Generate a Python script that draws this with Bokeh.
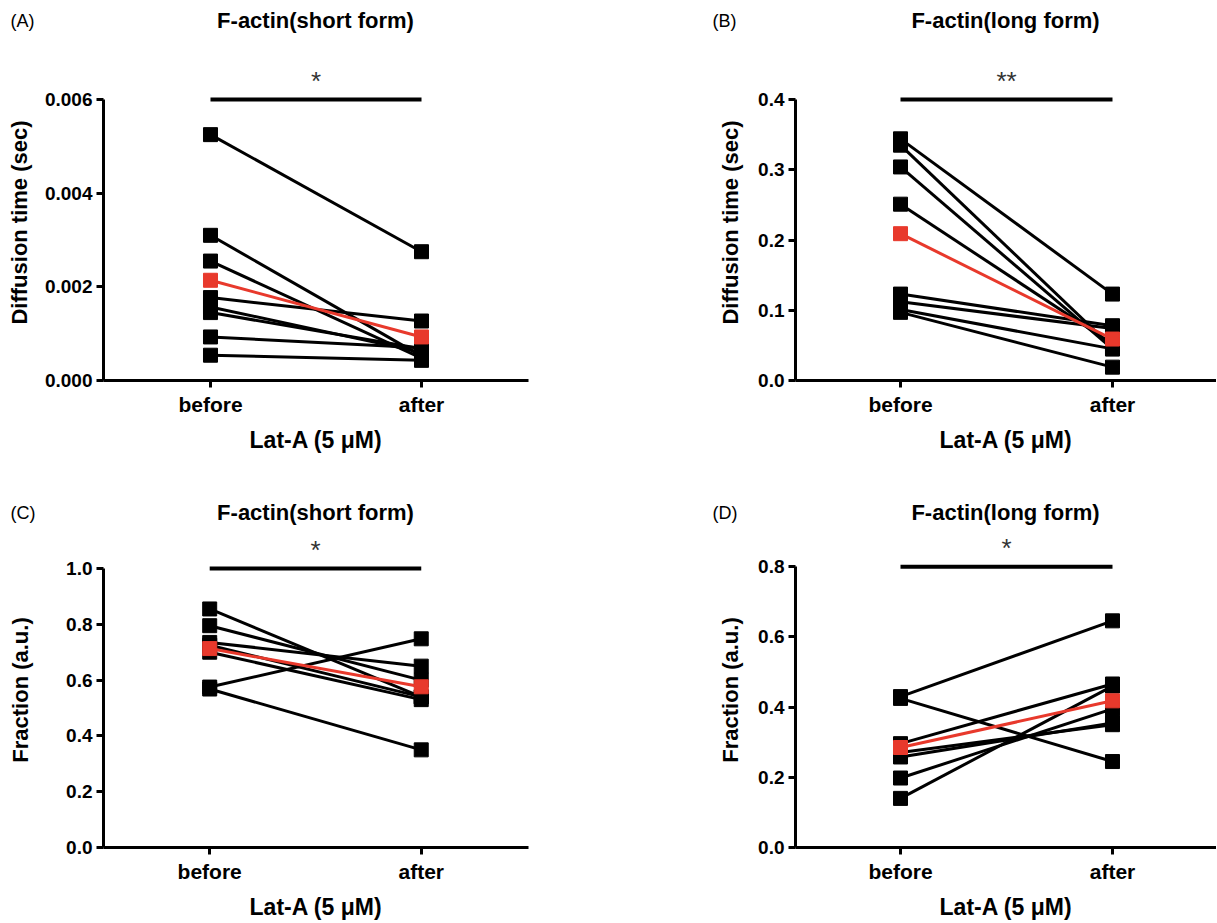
from bokeh.plotting import figure
from bokeh.layouts import column, row
from bokeh.models import Label, FixedTicker, PrintfTickFormatter, Range1d
from bokeh.embed import file_html
from bokeh.resources import INLINE

# ---------------- data ----------------
conditions = ["before", "after"]
x_label = "Lat-A (5 \u03bcM)"
panel_letters = ["(A)", "(B)", "(C)", "(D)"]
panel_titles = ["F-actin(short form)", "F-actin(long form)",
                "F-actin(short form)", "F-actin(long form)"]
y_labels = ["Diffusion time (sec)", "Diffusion time (sec)", "Fraction (a.u.)", "Fraction (a.u.)"]
significance = ["*", "**", "*", "*"]

# Panel A: F-actin(short form), diffusion time (sec)
A_before = [0.00525, 0.00310, 0.00255, 0.00177, 0.00157, 0.00145, 0.00093, 0.00054]
A_after = [0.00275, 0.00052, 0.00048, 0.00127, 0.00060, 0.00068, 0.00070, 0.00043]
A_mean = [0.00214, 0.00093]
A_ticks = [0.0, 0.002, 0.004, 0.006]

# Panel B: F-actin(long form), diffusion time (sec)
B_before = [0.344, 0.335, 0.304, 0.251, 0.123, 0.112, 0.101, 0.097]
B_after = [0.123, 0.047, 0.045, 0.052, 0.078, 0.074, 0.045, 0.019]
B_mean = [0.209, 0.059]
B_ticks = [0.0, 0.1, 0.2, 0.3, 0.4]

# Panel C: F-actin(short form), fraction
C_before = [0.855, 0.795, 0.735, 0.725, 0.700, 0.575, 0.568]
C_after = [0.540, 0.600, 0.650, 0.540, 0.530, 0.748, 0.350]
C_mean = [0.713, 0.576]
C_ticks = [0.0, 0.2, 0.4, 0.6, 0.8, 1.0]

# Panel D: F-actin(long form), fraction
D_before = [0.430, 0.425, 0.296, 0.271, 0.258, 0.198, 0.140]
D_after = [0.646, 0.245, 0.466, 0.350, 0.355, 0.395, 0.460]
D_mean = [0.285, 0.418]
D_ticks = [0.0, 0.2, 0.4, 0.6, 0.8]

FONT = "Liberation Sans"
RED = "#E8392C"
PAGE_W = 1216


def make_header(height, items):
    """Row of panel letters and titles; items: (letter, letter_x, title, title_x, y)."""
    h = figure(width=PAGE_W, height=height, output_backend="svg", toolbar_location=None,
               x_range=Range1d(0, PAGE_W), y_range=Range1d(height, 0),
               x_axis_location=None, y_axis_location=None,
               min_border=0, min_border_left=0, min_border_right=0,
               min_border_top=0, min_border_bottom=0)
    h.outline_line_color = None
    h.xgrid.visible = False
    h.ygrid.visible = False
    for letter, lx, title, tx, ty in items:
        h.add_layout(Label(x=lx, y=ty, text=letter, text_align="left",
                           text_baseline="middle", text_font=FONT,
                           text_font_size="18px", text_color="black"))
        h.add_layout(Label(x=tx, y=ty, text=title, text_align="center",
                           text_baseline="middle", text_font=FONT, text_font_style="bold",
                           text_font_size="22px", text_color="black"))
    return h


def make_panel(ylabel, before, after, mean, ticks, fmt, stars,
               origin, size, frame, xr, yr, label_standoff):
    ox, oy = origin
    w, h = size
    fl, fr, ft, fb = frame  # page pixel coords of frame edges
    p = figure(width=w, height=h, output_backend="svg", toolbar_location=None,
               x_range=Range1d(*xr), y_range=Range1d(*yr),
               min_border_left=fl - ox, min_border_right=ox + w - fr,
               min_border_top=ft - oy, min_border_bottom=oy + h - fb)
    p.outline_line_color = None
    p.xgrid.visible = False
    p.ygrid.visible = False

    def dy(py):
        return yr[0] + (fb - py) / (fb - ft) * (yr[1] - yr[0])

    for ax in (p.xaxis[0], p.yaxis[0]):
        ax.axis_line_width = 3
        ax.axis_line_color = "black"
        ax.major_tick_line_width = 3
        ax.major_tick_line_color = "black"
        ax.major_tick_out = 7
        ax.major_tick_in = 0
        ax.minor_tick_line_color = None
        ax.major_label_text_font = FONT
        ax.major_label_text_font_style = "bold"
        ax.major_label_text_color = "black"
        ax.axis_label_text_font = FONT
        ax.axis_label_text_font_style = "bold"
        ax.axis_label_text_color = "black"
    p.yaxis.axis_label_text_font_size = "22px"
    p.xaxis.axis_label_text_font_size = "23px"
    p.yaxis.major_label_text_font_size = "19px"
    p.xaxis.major_label_text_font_size = "21px"
    p.yaxis.ticker = FixedTicker(ticks=ticks)
    p.yaxis.formatter = PrintfTickFormatter(format=fmt)
    p.yaxis.bounds = (ticks[0], ticks[-1])
    p.yaxis.axis_label = ylabel
    p.yaxis.axis_label_standoff = label_standoff
    p.yaxis.major_label_standoff = 4
    p.xaxis.ticker = FixedTicker(ticks=[0, 1])
    p.xaxis.major_label_overrides = {0: conditions[0], 1: conditions[1]}
    p.xaxis.axis_label = x_label
    p.xaxis.major_label_standoff = 5
    p.xaxis.axis_label_standoff = 8

    # paired lines
    for b, a in zip(before, after):
        p.line([0, 1], [b, a], line_color="black", line_width=3)
    p.scatter([0] * len(before) + [1] * len(after), list(before) + list(after),
              marker="square", size=14, fill_color="black", line_color="black")
    p.line([0, 1], mean, line_color=RED, line_width=3)
    p.scatter([0, 1], mean, marker="square", size=14, fill_color=RED, line_color=RED)

    # significance bar
    p.line([0, 1], [ticks[-1], ticks[-1]], line_color="black", line_width=4)
    bar_py = fb - (ticks[-1] - yr[0]) / (yr[1] - yr[0]) * (fb - ft)
    p.add_layout(Label(x=0.5, y=dy(bar_py - 19), text=stars, text_align="center",
                       text_baseline="middle", text_font=FONT, text_font_size="26px",
                       text_color="#333333"))
    return p


header1 = make_header(40, [(panel_letters[0], 10, panel_titles[0], 315, 20),
                           (panel_letters[1], 712, panel_titles[1], 1005, 20)])
pA = make_panel(y_labels[0], A_before, A_after, A_mean, A_ticks, "%.3f", significance[0],
                (0, 40), (700, 436), (103, 528, 64, 380),
                (-0.507, 1.507), (0.0, 0.006 * 316 / 281), 10)
pB = make_panel(y_labels[1], B_before, B_after, B_mean, B_ticks, "%.1f", significance[1],
                (700, 40), (516, 436), (795, 1216, 64, 380),
                (-0.4953, 1.4906), (0.0, 0.4 * 316 / 281), 12)
header2 = make_header(50, [(panel_letters[2], 10, panel_titles[2], 315, 36),
                           (panel_letters[3], 712, panel_titles[3], 1005, 36)])
pC = make_panel(y_labels[2], C_before, C_after, C_mean, C_ticks, "%.1f", significance[2],
                (0, 526), (700, 396), (103, 528, 532, 847),
                (-0.502, 1.507), (0.0, 315 / 279), 30)
pD = make_panel(y_labels[3], D_before, D_after, D_mean, D_ticks, "%.1f", significance[3],
                (700, 526), (516, 396), (795, 1216, 532, 847),
                (-0.4953, 1.4906), (0.0, 0.8 * 315 / 280.7), 12)

layout = column(header1, row(pA, pB), header2, row(pC, pD))
open("out.html", "w").write(file_html(layout, INLINE))
